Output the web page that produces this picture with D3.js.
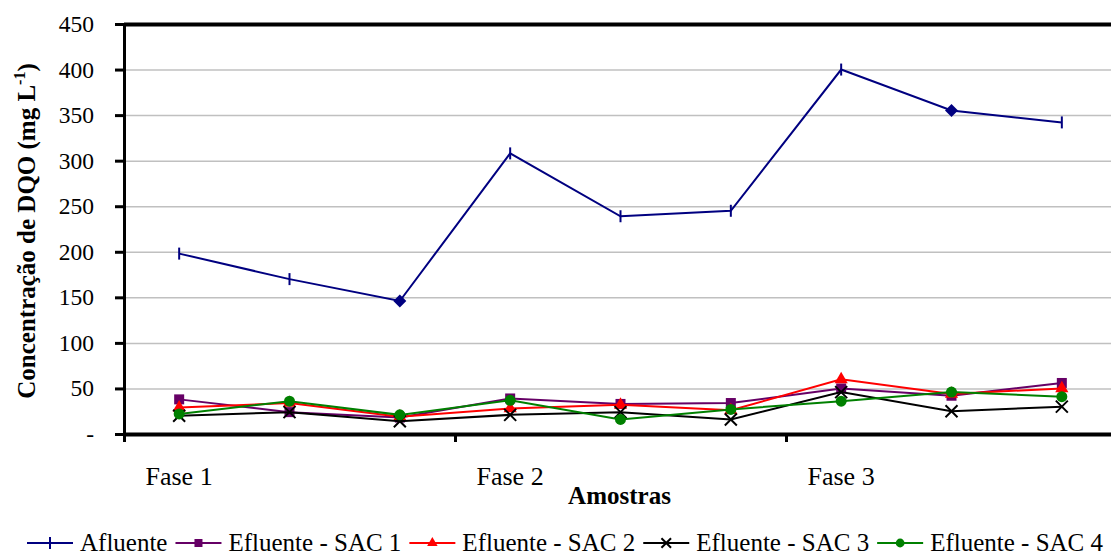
<!DOCTYPE html>
<html>
<head>
<meta charset="utf-8">
<script src="https://cdn.jsdelivr.net/npm/d3@7"></script>
<style>
  body { margin: 0; background: #fff; }
  svg { display: block; font-family: "Liberation Serif", "Times New Roman", serif; }
</style>
</head>
<body>
<div id="chart"></div>
<script>
// data
const samples = [1, 2, 3, 4, 5, 6, 7, 8, 9];
const phases = ['Fase 1', 'Fase 2', 'Fase 3'];
const afluente = [198, 170, 146, 308, 239, 245, 400, 355, 342];
const sac1 = [38, 24, 18, 39, 33, 34, 50, 42, 56];
const sac2 = [29, 34, 19, 28, 32, 26, 60, 44, 50];
const sac3 = [20, 24, 14, 21, 24, 16, 46, 25, 30];
const sac4 = [22, 36, 21, 37, 16, 27, 36, 46, 41];
const seriesNames = ['Afluente', 'Efluente - SAC 1', 'Efluente - SAC 2', 'Efluente - SAC 3', 'Efluente - SAC 4'];
const yTicks = [0, 50, 100, 150, 200, 250, 300, 350, 400, 450];

// afluente points drawn as diamonds in the original
const diamondIdx = [2, 7];

const W = 1111, H = 553;
const margin = {top: 24, left: 124, bottom: 119};
const plotRight = 1117;

const series = [
  {name: seriesNames[0], values: afluente, color: '#000080', marker: 'dash'},
  {name: seriesNames[1], values: sac1, color: '#660066', marker: 'square'},
  {name: seriesNames[2], values: sac2, color: '#ff0000', marker: 'triangle'},
  {name: seriesNames[3], values: sac3, color: '#000000', marker: 'cross'},
  {name: seriesNames[4], values: sac4, color: '#008000', marker: 'circle'}
];

const svg = d3.select('#chart').append('svg')
  .attr('width', W).attr('height', H);

svg.append('rect').attr('width', W).attr('height', H).attr('fill', '#fff');

const x = d3.scaleBand().domain(samples).range([margin.left, plotRight]);
const xPhase = d3.scaleLinear().domain([0, phases.length]).range([margin.left, plotRight]);
const y = d3.scaleLinear().domain([0, 450]).range([H - margin.bottom, margin.top]);
const cx = i => x(samples[i]) + x.bandwidth() / 2;

// gridlines
const grid = svg.append('g')
  .attr('transform', `translate(${margin.left},0)`)
  .call(d3.axisLeft(y).tickValues(yTicks.slice(1)).tickSize(-(plotRight - margin.left)).tickFormat(''));
grid.select('.domain').remove();
grid.selectAll('line')
  .attr('stroke', d => d === 450 ? '#000' : '#c0c0c0')
  .attr('stroke-width', d => d === 450 ? 4 : 1.5);

// y axis
const yAxis = svg.append('g')
  .attr('transform', `translate(${margin.left},0)`)
  .call(d3.axisLeft(y).tickValues(yTicks).tickSize(9).tickPadding(21).tickFormat(d => d === 0 ? '-' : d));
yAxis.select('.domain').attr('stroke', '#000').attr('stroke-width', 3);
yAxis.selectAll('line').attr('stroke', '#000').attr('stroke-width', 3);
yAxis.selectAll('text').attr('font-size', 23.5).attr('fill', '#000')
  .attr('font-family', '"Liberation Serif", serif');

// x axis (phases)
const xAxis = svg.append('g')
  .attr('transform', `translate(0,${H - margin.bottom})`)
  .call(d3.axisBottom(xPhase).tickValues([0, 1, 2]).tickSize(8).tickSizeOuter(0).tickFormat(i => phases[i]));
xAxis.select('.domain').attr('stroke', '#000').attr('stroke-width', 4);
xAxis.selectAll('line').attr('stroke', '#000').attr('stroke-width', 3);
xAxis.selectAll('text')
  .attr('font-size', 26).attr('fill', '#000')
  .attr('font-family', '"Liberation Serif", serif')
  .attr('text-anchor', 'start')
  .attr('x', 21).attr('y', 0).attr('dy', 51);

// axis titles
svg.append('text')
  .attr('x', (margin.left + plotRight) / 2 - 1).attr('y', 504)
  .attr('text-anchor', 'middle').attr('font-weight', 'bold').attr('font-size', 25)
  .text('Amostras');

const yTitle = svg.append('text')
  .attr('transform', `translate(35,${(y(0) + y(450)) / 2 + 2}) rotate(-90)`)
  .attr('text-anchor', 'middle').attr('font-weight', 'bold').attr('font-size', 25);
yTitle.append('tspan').text('Concentração de DQO (mg L');
yTitle.append('tspan').attr('dy', -10).attr('font-size', 16).text('-1');
yTitle.append('tspan').attr('dy', 10).text(')');

// markers
function drawMarker(g, type, color, px, py, i, sz) {
  const k = sz || 1;
  if (type === 'dash' && i != null && diamondIdx.includes(i)) type = 'diamond';
  if (type === 'dash') {
    g.append('line').attr('x1', px).attr('x2', px).attr('y1', py - 6).attr('y2', py + 6)
      .attr('stroke', color).attr('stroke-width', 2);
  } else if (type === 'diamond') {
    g.append('path').attr('d', `M${px},${py - 6.5}L${px + 6.5},${py}L${px},${py + 6.5}L${px - 6.5},${py}Z`)
      .attr('fill', color);
  } else if (type === 'square') {
    const h = 5 * k;
    g.append('rect').attr('x', px - h).attr('y', py - h).attr('width', 2 * h).attr('height', 2 * h).attr('fill', color);
  } else if (type === 'triangle') {
    g.append('path').attr('d', d3.symbol(d3.symbolTriangle, 75 * k * k)())
      .attr('transform', `translate(${px},${py})`).attr('fill', color);
  } else if (type === 'circle') {
    g.append('circle').attr('cx', px).attr('cy', py).attr('r', 5.5 * k).attr('fill', color);
  } else if (type === 'cross') {
    const h = 6 * k;
    g.append('path').attr('d', `M${px - h},${py - h}L${px + h},${py + h}M${px - h},${py + h}L${px + h},${py - h}`)
      .attr('stroke', color).attr('stroke-width', 2);
  }
}

const line = d3.line().x((d, i) => cx(i)).y(d => y(d));

series.forEach(s => {
  const g = svg.append('g');
  g.append('path').datum(s.values).attr('d', line)
    .attr('fill', 'none').attr('stroke', s.color).attr('stroke-width', 2);
  s.values.forEach((v, i) => drawMarker(g, s.marker, s.color, cx(i), y(v), i));
});

// legend
const legend = svg.append('g').attr('font-size', 25);
let lx = 27;
const ly = 543;
series.forEach(s => {
  const g = legend.append('g');
  g.append('line').attr('x1', lx).attr('x2', lx + 46).attr('y1', ly).attr('y2', ly)
    .attr('stroke', s.color).attr('stroke-width', 2);
  drawMarker(g, s.marker, s.color, lx + 23, ly, null, 0.8);
  const t = g.append('text').attr('x', lx + 53).attr('y', ly + 8).text(s.name);
  lx += 53 + t.node().getComputedTextLength() + 8;
});
</script>
</body>
</html>
